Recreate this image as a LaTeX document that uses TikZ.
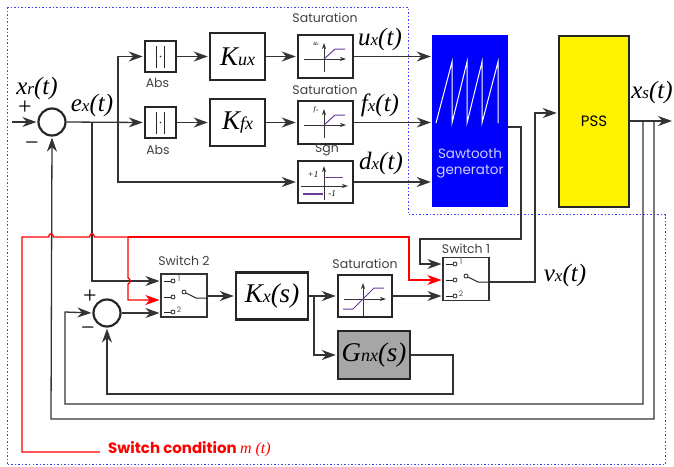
\documentclass[tikz,border=0pt]{standalone}
\usepackage{fontspec}
\setmainfont{Liberation Serif}
\setsansfont{Poppins}
\usetikzlibrary{arrows.meta}
\definecolor{wirecol}{HTML}{333333}
\definecolor{dashcol}{HTML}{4040FF}
\definecolor{tracecol}{HTML}{6A3D9A}
\definecolor{sawcol}{HTML}{0000FF}
\newcommand{\sigtxt}[3]{{\fontsize{25}{25}\selectfont\itshape #1{\fontsize{17}{17}\selectfont #2}(#3)}}
\newcommand{\gaintxt}[2]{{\fontsize{27}{27}\selectfont\itshape #1{\fontsize{18}{18}\selectfont #2}}}
\tikzset{
  wire/.style={draw=wirecol,line width=1.3pt},
  arr/.style={wire,-{Stealth[length=14pt,width=10pt,inset=4.5pt]},shorten >=1pt},
  redwire/.style={draw=red,line width=1.3pt},
  redarr/.style={redwire,-{Stealth[length=14pt,width=10pt,inset=4pt]},shorten >=1pt},
  block/.style={draw=black!85,line width=2.5pt,fill=white,inner sep=0pt,minimum width=#1},
  sumnode/.style={circle,draw=black!85,line width=2.2pt,fill=white,minimum size=27pt,inner sep=0pt},
  switchbox/.style={draw=black!80,line width=1.1pt,fill=white,inner sep=0pt,minimum width=46pt,minimum height=43pt},
  captxt/.style={font=\sffamily\fontsize{12.5}{13}\selectfont,text=black!75,inner sep=0pt},
  signtxt/.style={font=\fontsize{24}{24}\selectfont,inner sep=0pt},
  contact/.style={circle,draw=black!85,line width=0.8pt,fill=white,minimum size=4pt,inner sep=0pt},
  axisline/.style={draw=black!80,line width=0.8pt,-{Stealth[length=6pt,width=4pt]}},
  trace/.style={draw=tracecol,line width=1pt},
  smalltxt/.style={font=\fontsize{7}{7}\selectfont,inner sep=0pt},
}
\begin{document}
\begin{tikzpicture}[x=1pt,y=-1pt]
  \useasboundingbox (0,0) rectangle (674,466);
  % dashed frame
  \draw[dashcol,line width=1pt,dash pattern=on 1.5pt off 2pt] (7,7) -- (408,7) -- (408,214.5) -- (665,214.5) -- (665,464.5) -- (7,464.5) -- cycle;

  % blocks
  \node[sumnode] (sumx) at (52,122) {};
  \node[sumnode] (sumv) at (107,313) {};
  \node[block=31pt,minimum height=31pt] (absu) at (160.5,56.5) {};
  \node[block=31pt,minimum height=31pt] (absf) at (160.5,122.5) {};
  \node[block=55pt,minimum height=47pt] (kux) at (237.5,56.5) {\gaintxt{K}{ux}};
  \node[block=55pt,minimum height=47pt] (kfx) at (237.5,122.5) {\gaintxt{K}{fx}};
  \node[block=55pt,minimum height=43pt] (satu) at (325.5,56.5) {};
  \node[block=55pt,minimum height=43pt] (satf) at (325.5,122.5) {};
  \node[block=55pt,minimum height=42pt] (sgn) at (325.5,182) {};
  \node[fill=sawcol,minimum width=76pt,minimum height=172pt,inner sep=0pt] (saw) at (470,121) {};
  \node[block=70pt,minimum height=171pt,fill=yellow] (pss) at (594,121.5) {\sffamily\fontsize{15}{15}\selectfont PSS};
  \node[switchbox] (swtwo) at (184,295.5) {};
  \node[switchbox] (swone) at (466,279) {};
  \node[block=72pt,minimum height=47pt] (kxs) at (272,296) {\gaintxt{K}{x}{\fontsize{27}{27}\selectfont\itshape(s)}};
  \node[block=54pt,minimum height=42pt] (satv) at (365,296) {};
  \node[block=72pt,minimum height=48pt,fill=black!35] (gnx) at (374,355) {\gaintxt{G}{nx}{\fontsize{27}{27}\selectfont\itshape(s)}};

  % free ends and bends
  \coordinate (xin) at (12,122);
  \coordinate (xout) at (673,121);
  \coordinate (tapx) at (92,122);
  \coordinate (tapb) at (118,122);
  \coordinate (tapk) at (314,296);
  \coordinate (tapv) at (643,121);
  \coordinate (tapr) at (654,121);
  \coordinate (redout) at (100,452);

  % upper path
  \draw[arr] (xin) -- (sumx.west);
  \draw[arr] (sumx.east) -- (absf.west);
  \draw[arr] (tapb) -- (118,56.5) -- (absu.west);
  \draw[arr] (tapb) -- (118,182) -- (sgn.west);
  \draw[arr] (absu.east) -- (kux.west);
  \draw[arr] (absf.east) -- (kfx.west);
  \draw[arr] (kux.east) -- (satu.west);
  \draw[arr] (kfx.east) -- (satf.west);
  \draw[arr] (satu.east) -- (saw.west |- satu.east);
  \draw[arr] (satf.east) -- (saw.west |- satf.east);
  \draw[arr] (sgn.east) -- (saw.west |- sgn.east);
  \draw[arr] (pss.east |- xout) -- (xout);

  % lower path
  \draw[arr] (tapx) -- (92,281) -- (swtwo.west |- 0,281);
  \draw[arr] (sumv.east) -- (swtwo.west |- sumv.east);
  \draw[arr] (swtwo.east |- kxs.west) -- (kxs.west);
  \draw[arr] (kxs.east) -- (satv.west);
  \draw[arr] (tapk) -- (tapk |- gnx.west) -- (gnx.west);
  \draw[arr] (satv.east) -- (swone.west |- satv.east);
  \draw[arr] (saw.east |- 0,127) -- (521,127) -- (521,239) -- (420,239) -- (420,264) -- (swone.west |- 0,264);
  \draw[arr] (swone.east |- 0,282) -- (535,282) -- (535,113) -- (pss.west |- 0,113);

  % feedback
  \draw[arr] (gnx.east) -- (453,355) -- (453,394) -- (107,394) -- (sumv.south);
  \draw[arr] (tapv) -- (643,404) -- (65,404) -- (65,312) -- (sumv.west);
  \draw[arr] (tapr) -- (654,419) -- (51,419) -- (sumx.south);

  % switch condition
  \draw[redwire] (redout) -- (22,452) -- (22,237) -- (48.5,237) .. controls (49,232.5) and (53,232.5) .. (53.5,237) -- (89.5,237) .. controls (90,232.5) and (94,232.5) .. (94.5,237) -- (128,237);
  \draw[redarr] (128,237) -- (128,278) .. controls (131,279) and (131,283) .. (128,284) -- (128,300) -- (swtwo.west |- 0,300);
  \draw[redarr] (128,237) -- (409,237) -- (409,280) -- (swone.west |- 0,280);

  % saturation icons
  \foreach \name/\dy/\lab in {u/0/u,f/66/f} {
    \begin{scope}[shift={(0,\dy)}]
      \draw[axisline] (304,59) -- (346,59);
      \draw[axisline] (324,72) -- (324,43);
      \draw[trace] (324,59) -- (335,49) -- (345,49);
      \node[smalltxt] (lab\name) at (316,43.5) {\textit{\lab}{\fontsize{4}{4}\selectfont\textit{x}}};
    \end{scope}
  }
  \draw[axisline] (344,299) -- (386,299);
  \draw[axisline] (363,316) -- (363,283);
  \draw[trace] (343,309) -- (353,309) -- (374,288) -- (384,288);
  % sgn icon
  \draw[axisline] (301,186) -- (348,186);
  \draw[axisline] (324,200) -- (324,166);
  \draw[trace] (324,177) -- (343,177);
  \draw[trace,line width=1.5pt] (303,194) -- (323,194);
  \node[smalltxt,font=\itshape\fontsize{9}{9}\selectfont] (plusone) at (313,175) {+1};
  \node[smalltxt,font=\itshape\fontsize{9}{9}\selectfont] (minusone) at (332,194) {-1};

  % abs icons
  \foreach \name in {absu,absf} {
    \draw[black!85,line width=0.9pt] ([shift={(-4pt,-11pt)}]\name.center) -- ([shift={(-4pt,11pt)}]\name.center);
    \draw[black!85,line width=0.9pt] ([shift={(4pt,-11pt)}]\name.center) -- ([shift={(4pt,11pt)}]\name.center);
    \fill[black!85] (\name.center) circle (0.9pt);
  }

  % sawtooth
  \draw[white,line width=1pt] (436,123) -- (452,62) -- (452,123) -- (467,62) -- (467,123) -- (482,62) -- (482,123) -- (498,62) -- (498,123);
  \node[font=\sffamily\fontsize{13.5}{16}\selectfont,text=blue!20,align=center,inner sep=0pt] (sawlab) at (470,163) {Sawtooth\\generator};

  % switch internals
  \foreach \name/\xo/\ya/\yb/\yc/\ypa/\ypb in {two/173/281/297/312/292/298,one/455/264/280/296/276/282} {
    \draw[black!85,line width=0.9pt] (\xo-9,\ya) -- (\xo,\ya);
    \draw[black!85,line width=0.9pt] (\xo-9,\yb) -- (\xo,\yb);
    \draw[black!85,line width=0.9pt] (\xo-9,\yc) -- (\xo,\yc);
    \node[contact] (cont\name a) at (\xo,\ya) {};
    \node[contact] (cont\name b) at (\xo,\yb) {};
    \node[contact] (cont\name c) at (\xo,\yc) {};
    \node[contact] (pole\name) at (\xo+11,\ypa) {};
    \draw[black!85,line width=1pt] (pole\name) -- (\xo+23,\ypb) -- (\xo+34,\ypb);
    \node[smalltxt,font=\sffamily\fontsize{7.5}{8}\selectfont,text=black!70] (num\name a) at (\xo+6,\ya-2) {1};
    \node[smalltxt,font=\sffamily\fontsize{7.5}{8}\selectfont,text=black!70] (num\name c) at (\xo+6,\yc-2) {2};
  }

  % captions
  \node[captxt] (capabsu) at (157.5,83) {Abs};
  \node[captxt] (capabsf) at (158,150) {Abs};
  \node[captxt] (capsatu) at (325,18) {Saturation};
  \node[captxt] (capsatf) at (325,90) {Saturation};
  \node[captxt] (capsgn) at (327,150) {Sgn};
  \node[captxt] (capsatv) at (365,264) {Saturation};
  \node[captxt] (capswtwo) at (184,261) {Switch 2};
  \node[captxt] (capswone) at (466,249) {Switch 1};

  % signal labels
  \node[inner sep=0pt] (labxr) at (37,88) {\sigtxt{x}{r}{t}};
  \node[inner sep=0pt] (labex) at (92,105) {\sigtxt{e}{x}{t}};
  \node[inner sep=0pt] (labux) at (380,39) {\sigtxt{u}{x}{t}};
  \node[inner sep=0pt] (labfx) at (380,105) {\sigtxt{f}{x}{t}};
  \node[inner sep=0pt] (labdx) at (381,163) {\sigtxt{d}{x}{t}};
  \node[inner sep=0pt] (labxs) at (652,92) {\sigtxt{x}{s}{t}};
  \node[inner sep=0pt] (labvx) at (565,275) {\sigtxt{v}{x}{t}};
  \node[signtxt] (pluse) at (25,108) {+};
  \node[signtxt] (minuse) at (32,146) {\textminus};
  \node[signtxt] (plusv) at (90,297) {+};
  \node[signtxt] (minusv) at (88,331) {\textminus};
  \node[anchor=west,inner sep=0pt,text=red] (labm) at (108,449) {\sffamily\bfseries\fontsize{15}{15}\selectfont Switch condition \rmfamily\itshape\mdseries\fontsize{16}{16}\selectfont m (t)};
\end{tikzpicture}
\end{document}
